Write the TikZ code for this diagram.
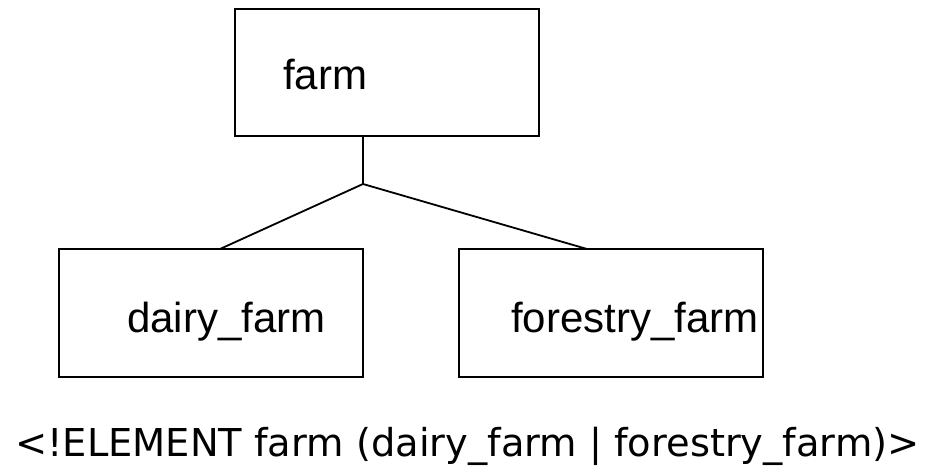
\documentclass[tikz,border=0pt]{standalone}
\usepackage{fontspec}
\setmainfont{Liberation Sans}
\newfontfamily\dtdfont{DejaVu Sans}
\usetikzlibrary{positioning}

\tikzset{
	elembox/.style = {draw, line width = 2.6pt, minimum width = 304pt, minimum height = 128pt, inner sep = 0pt},
	elemname/.style = {anchor = base west, inner sep = 0pt, font = \fontsize{42}{50}\selectfont},
	branch/.style = {line width = 1.8pt}
}

\begin{document}
\begin{tikzpicture}[x = 1pt, y = -1pt]
	\useasboundingbox (0,0) rectangle (934,469);
	
	% element boxes
	\node[elembox, minimum height = 127pt] (farm) at (387,72.5) {};
	\node[elembox] (dairy) at (211,313) {};
	\node[elembox] (forestry) at (611,313) {};
	
	\node[elemname] (farmname) at (283,89) {farm};
	\node[elemname] (dairyname) at (127,332) {dairy\_farm};
	\node[elemname] (forestryname) at (511,332) {forestry\_farm};
	
	% choice branches
	\coordinate (fork) at (363,184);
	\coordinate (dairytop) at (220,249);
	\coordinate (forestrytop) at (587,249);
	\draw[branch] (farm.south -| fork) -- (fork);
	\draw[branch] (fork) -- (dairytop);
	\draw[branch] (fork) -- (forestrytop);
	
	\node[anchor = base west, inner sep = 0pt, font = \dtdfont\fontsize{38.4}{46}\selectfont] (decl) at (15,456) {<!ELEMENT farm (dairy\_farm | forestry\_farm)>};
\end{tikzpicture}
\end{document}
